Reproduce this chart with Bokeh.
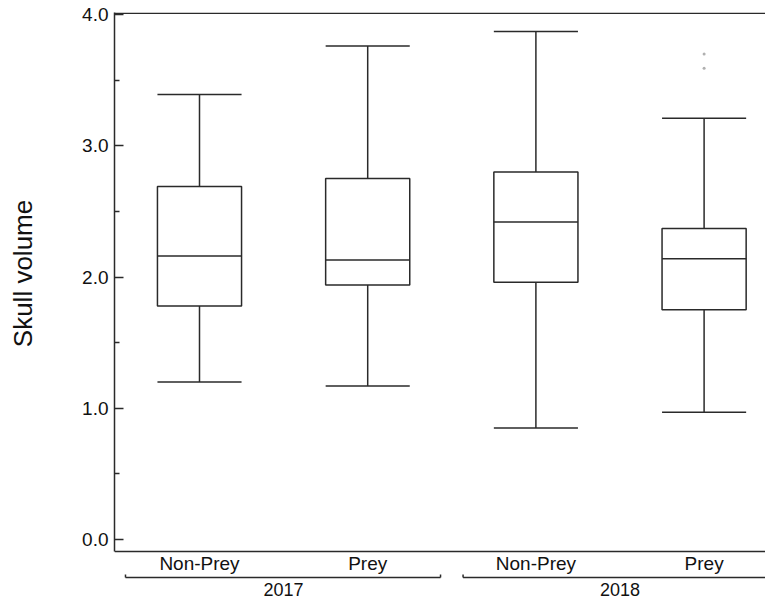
from bokeh.plotting import figure
from bokeh.models import Range1d, FixedTicker, ColumnDataSource
from bokeh.core.properties import value
from bokeh.embed import file_html
from bokeh.resources import INLINE

# ---- data ----
years = ["2017", "2017", "2018", "2018"]
groups = ["Non-Prey", "Prey", "Non-Prey", "Prey"]
lower = [1.20, 1.17, 0.85, 0.97]
q1 = [1.78, 1.94, 1.96, 1.75]
median = [2.16, 2.13, 2.42, 2.14]
q3 = [2.69, 2.75, 2.80, 2.37]
upper = [3.39, 3.76, 3.87, 3.21]
outlier_group = [4, 4]
outlier_value = [3.70, 3.59]
year_labels = ["2017", "2018"]
y_ticks = [0.0, 1.0, 2.0, 3.0, 4.0]
y_minor = [0.5, 1.5, 2.5, 3.5]

pos = [1, 2, 3, 4]
FONT = "Liberation Sans"
LC = "#2a2a2a"
LW = 1.5

# ---- layout helpers (pixel -> data) ----
PX_Y = 131.25          # pixels per y unit
PX_X = 168.2           # pixels per x unit
TOP_BORDER = 12
PLOT_W, PLOT_H = 765, 599
FRAME_LEFT = 114
y_end = 4.0 + 2 / PX_Y
y_start = y_end - (PLOT_H - TOP_BORDER) / PX_Y
x_start = 1 - 85 / PX_X
x_end = x_start + (PLOT_W - FRAME_LEFT) / PX_X

def py(y_canvas):
    return y_end - (y_canvas - TOP_BORDER) / PX_Y

y_axisline = py(551)
y_catlab = py(563)
y_bracket = py(577)
y_yearlab = py(588.5)

p = figure(width=PLOT_W, height=PLOT_H, output_backend="svg", toolbar_location=None,
           x_range=Range1d(x_start, x_end), y_range=Range1d(y_start, y_end),
           x_axis_location=None, y_axis_location="left",
           min_border_left=FRAME_LEFT, min_border_right=0, min_border_top=TOP_BORDER,
           min_border_bottom=0)
p.outline_line_color = None
p.xgrid.visible = False
p.ygrid.visible = False
p.background_fill_color = "white"

ax = p.yaxis[0]
ax.ticker = FixedTicker(ticks=y_ticks, minor_ticks=y_minor)
ax.major_label_overrides = {t: f"{t:.1f}" for t in y_ticks}
ax.bounds = (y_axisline, y_end)
ax.axis_line_color = LC
ax.axis_line_width = LW
ax.major_tick_in = 9
ax.major_tick_out = 0
ax.minor_tick_in = 5
ax.minor_tick_out = 0
ax.major_tick_line_color = LC
ax.major_tick_line_width = LW
ax.minor_tick_line_color = LC
ax.minor_tick_line_width = LW
ax.major_label_standoff = 6
ax.major_label_text_font = FONT
ax.major_label_text_font_size = "19px"
ax.major_label_text_color = "#111111"
# title centred on the frame; leading no-break spaces move it up to the box area
ax.axis_label = "\u00a0" * 9 + "Skull volume"
ax.axis_label_text_font = FONT
ax.axis_label_text_font_size = "26px"
ax.axis_label_text_font_style = "normal"
ax.axis_label_text_color = "#111111"
ax.axis_label_standoff = 41

# frame top and bottom lines
p.segment(x0=[x_start, x_start], x1=[x_end, x_end],
          y0=[y_end - 0.8 / PX_Y, y_axisline], y1=[y_end - 0.8 / PX_Y, y_axisline],
          line_color=LC, line_width=LW)

src = ColumnDataSource(dict(x=pos, lower=lower, q1=q1, med=median, q3=q3, upper=upper,
                            x0=[v - 0.25 for v in pos], x1=[v + 0.25 for v in pos]))
# whiskers
p.segment(x0="x", x1="x", y0="q3", y1="upper", source=src, line_color=LC, line_width=LW)
p.segment(x0="x", x1="x", y0="lower", y1="q1", source=src, line_color=LC, line_width=LW)
p.segment(x0="x0", x1="x1", y0="upper", y1="upper", source=src, line_color=LC, line_width=LW)
p.segment(x0="x0", x1="x1", y0="lower", y1="lower", source=src, line_color=LC, line_width=LW)
# boxes
p.quad(left="x0", right="x1", bottom="q1", top="q3", source=src,
       fill_color="white", line_color=LC, line_width=LW)
p.segment(x0="x0", x1="x1", y0="med", y1="med", source=src, line_color=LC, line_width=LW)
# outliers
p.scatter(x=outlier_group, y=outlier_value, size=3, color="#b0b0b0", line_color=None)

# category labels
p.text(x=pos, y=[y_catlab] * 4, text=groups, text_align="center", text_baseline="middle",
       text_font=value(FONT), text_font_size="19px", text_color="#111111")

# year brackets
gap = 0.067
brackets = [(0.56, 2.5 - gap), (2.5 + gap, 4.44)]
bx0 = [b[0] for b in brackets]
bx1 = [b[1] for b in brackets]
p.segment(x0=bx0, x1=bx1, y0=[y_bracket] * 2, y1=[y_bracket] * 2, line_color=LC, line_width=LW)
ends = bx0 + bx1
p.segment(x0=ends, x1=ends, y0=[y_bracket] * 4, y1=[y_bracket + 3 / PX_Y] * 4,
          line_color=LC, line_width=LW)
p.text(x=[1.5, 3.5], y=[y_yearlab] * 2, text=year_labels, text_align="center",
       text_baseline="middle", text_font=value(FONT), text_font_size="18px",
       text_color="#111111")

open("out.html", "w").write(file_html(p, INLINE))
